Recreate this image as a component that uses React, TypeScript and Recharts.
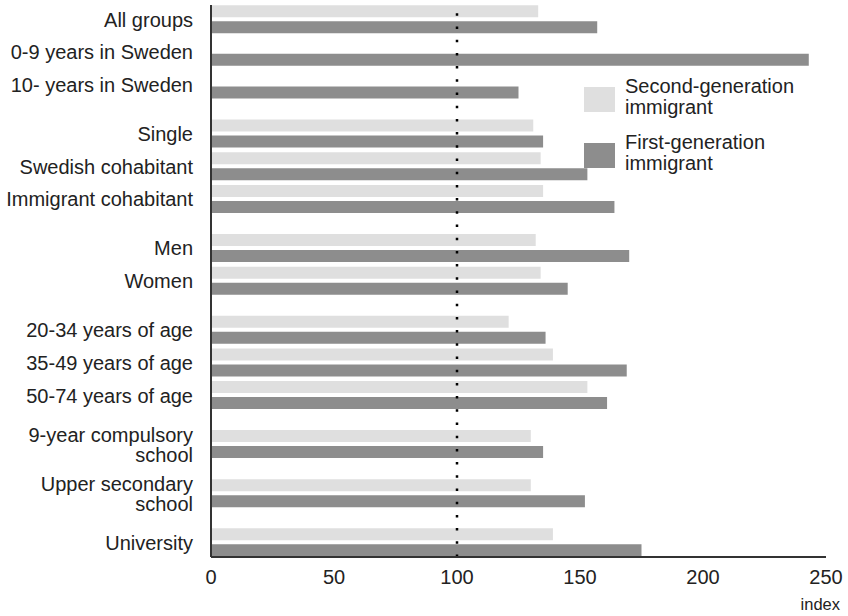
import React from 'react';
import { BarChart, Bar, XAxis, YAxis, ReferenceLine } from 'recharts';

// rows of the figure, top to bottom ("\n" = line break in the label)
const categories = [
  'All groups',
  '0-9 years in Sweden',
  '10- years in Sweden',
  'Single',
  'Swedish cohabitant',
  'Immigrant cohabitant',
  'Men',
  'Women',
  '20-34 years of age',
  '35-49 years of age',
  '50-74 years of age',
  '9-year compulsory\nschool',
  'Upper secondary\nschool',
  'University',
];

// index values (no second-generation bar for years in Sweden)
const secondGeneration = [133, null, null, 131, 134, 135, 132, 134, 121, 139, 153, 130, 130, 139];
const firstGeneration = [157, 243, 125, 135, 153, 164, 170, 145, 136, 169, 161, 135, 152, 175];

// how many rows each block of the figure holds
const groupSizes = [3, 3, 2, 3, 1, 1, 1];

const xTicks = [0, 50, 100, 150, 200, 250];

const SERIES = [
  { key: 'second', name: 'Second-generation\nimmigrant', color: '#dfdfdf' },
  { key: 'first', name: 'First-generation\nimmigrant', color: '#8d8d8d' },
];

const FONT = '"Liberation Sans", Arial, Helvetica, sans-serif';
const TEXT = '#222';
const GROUP_STEP = 1.5;

// row slots: one step inside a block, a bit more between blocks
const rowPos: number[] = [];
let cursor = 0;
groupSizes.forEach((n, g) => {
  if (g > 0) cursor += GROUP_STEP - 1;
  for (let i = 0; i < n; i++) {
    rowPos.push(cursor);
    cursor += 1;
  }
});

const data = categories.map((name, i) => ({
  name,
  pos: rowPos[i],
  second: secondGeneration[i],
  first: firstGeneration[i],
}));

const CategoryTick = (props: any) => {
  const { x, y, payload } = props;
  const idx = rowPos.indexOf(payload.value);
  const lines = (categories[idx] ?? '').split('\n');
  const start = -((lines.length - 1) * 20) / 2;
  return (
    <text x={x} y={y} textAnchor="end" fill={TEXT} fontSize={20} fontFamily={FONT}>
      {lines.map((l, i) => (
        <tspan key={i} x={x} y={y + start + i * 20} dy="0.355em">
          {l}
        </tspan>
      ))}
    </text>
  );
};

const IndexLabel = (props: any) => {
  const vb = props.viewBox;
  return (
    <text
      x={vb.x + vb.width + 14}
      y={vb.y + vb.height - 6}
      textAnchor="end"
      fill={TEXT}
      fontSize={16.5}
      fontFamily={FONT}
    >
      index
    </text>
  );
};

export default function App() {
  return (
    <div style={{ position: 'absolute', left: 0, top: 0, width: 848, height: 616, background: '#fff' }}>
      <BarChart
        width={848}
        height={616}
        data={data}
        layout="vertical"
        margin={{ top: 5, right: 22, bottom: 0, left: 0 }}
      >
        <XAxis
          type="number"
          domain={[0, 250]}
          ticks={xTicks}
          tickLine={false}
          axisLine={{ stroke: '#333', strokeWidth: 2 }}
          tickMargin={7}
          height={59}
          tick={{ fill: TEXT, fontSize: 20, fontFamily: FONT }}
          label={IndexLabel}
        />
        <YAxis
          type="number"
          dataKey="pos"
          domain={[0, rowPos[rowPos.length - 1]]}
          ticks={rowPos}
          allowDecimals
          interval={0}
          width={211}
          padding={{ top: 14.5, bottom: 14.5 }}
          tickLine={false}
          tickMargin={12}
          axisLine={{ stroke: '#333', strokeWidth: 2 }}
          tick={CategoryTick}
        />
        {SERIES.map((s) => (
          <Bar
            key={s.key}
            dataKey={s.key}
            name={s.name}
            fill={s.color}
            barSize={12}
            isAnimationActive={false}
          />
        ))}
        <ReferenceLine x={100} stroke="#000" strokeWidth={2.5} strokeDasharray="2.5 10.7" />
      </BarChart>

      {SERIES.map((s, i) => (
        <div key={s.key} style={{ position: 'absolute', left: 584, top: 76 + i * 56 }}>
          <div
            style={{
              position: 'absolute',
              left: 0,
              top: 11,
              width: 31,
              height: 25,
              background: s.color,
            }}
          />
          <div
            style={{
              position: 'absolute',
              left: 41,
              top: 0,
              whiteSpace: 'pre',
              fontFamily: FONT,
              fontSize: 20,
              lineHeight: '21px',
              color: TEXT,
            }}
          >
            {s.name}
          </div>
        </div>
      ))}
    </div>
  );
}
